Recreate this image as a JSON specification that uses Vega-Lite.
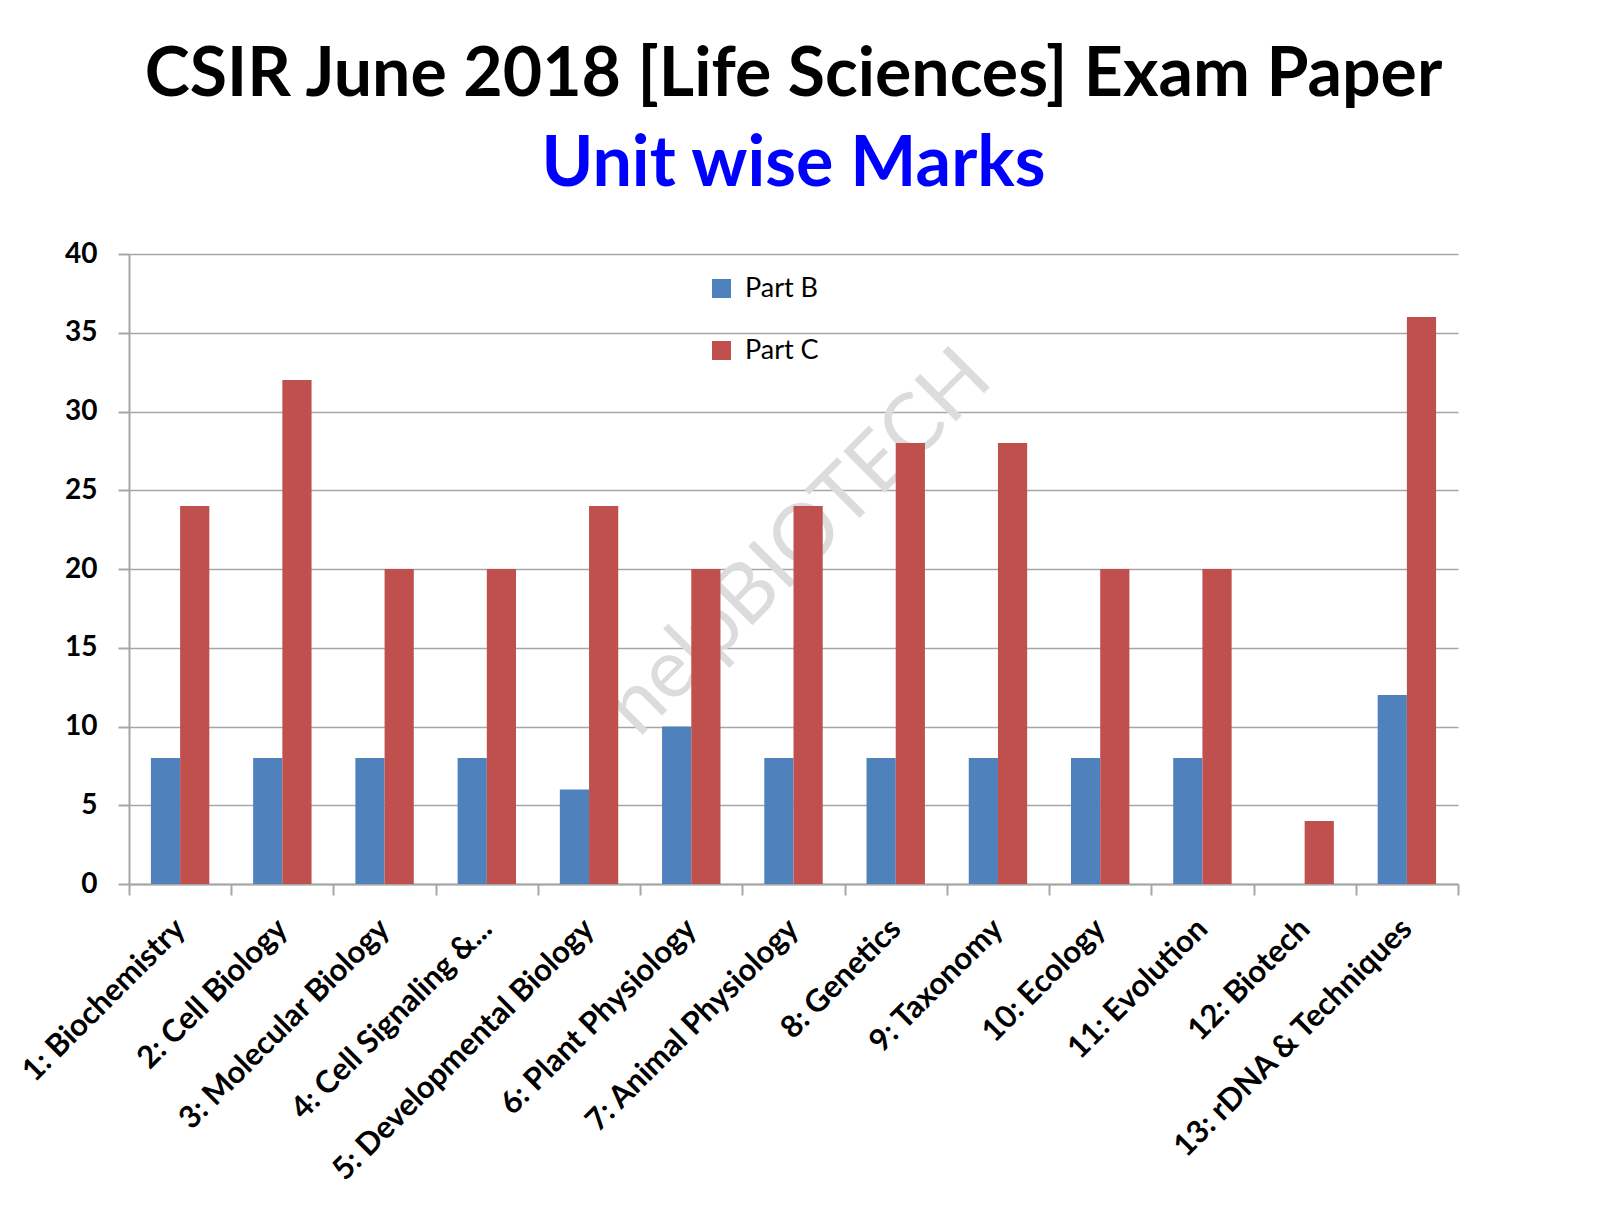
{
  "$schema": "https://vega.github.io/schema/vega-lite/v6.json",
  "width": 1329,
  "height": 630,
  "autosize": {"type": "none"},
  "padding": {"left": 129, "top": 254, "right": 142, "bottom": 324},
  "background": "white",
  "title": {
    "text": "CSIR June 2018 [Life Sciences] Exam Paper",
    "subtitle": "Unit wise Marks",
    "anchor": "middle",
    "font": "Lato",
    "fontSize": 68,
    "fontWeight": "bold",
    "color": "black",
    "subtitleFont": "Lato",
    "subtitleFontSize": 70,
    "subtitleFontWeight": "bold",
    "subtitleColor": "#0000FF",
    "subtitlePadding": 21,
    "offset": 40
  },
  "config": {
    "view": {"stroke": null},
    "axis": {
      "domainColor": "#a6a6a6",
      "domainWidth": 2,
      "tickColor": "#a6a6a6",
      "tickWidth": 2,
      "tickSize": 11,
      "gridColor": "#a6a6a6",
      "gridWidth": 1.5,
      "labelFont": "Lato",
      "labelFontWeight": "bold",
      "labelFontSize": 28,
      "labelColor": "black",
      "title": null
    },
    "axisX": {
      "grid": false,
      "labelAngle": -45,
      "labelAlign": "right",
      "labelBaseline": "middle",
      "tickBand": "extent",
      "labelPadding": 29,
      "labelFontSize": 31,
      "labelLimit": 0
    },
    "axisY": {
      "grid": true,
      "labelPadding": 21
    }
  },
  "layer": [
    {
      "data": {"values": [{"mark": "helpBIOTECH"}]},
      "mark": {"type": "text", "font": "Lato", "fontSize": 82, "fontWeight": "normal", "color": "#dcdcdc", "angle": 315, "align": "center", "baseline": "middle", "dx": 8},
      "encoding": {
        "x": {"datum": "7: Animal Physiology", "type": "nominal", "title": null,
          "scale": {"domain": ["1: Biochemistry", "2: Cell Biology", "3: Molecular Biology", "4: Cell Signaling &...", "5: Developmental Biology", "6: Plant  Physiology", "7: Animal Physiology", "8: Genetics", "9: Taxonomy", "10: Ecology", "11: Evolution", "12: Biotech", "13: rDNA & Techniques"], "paddingInner": 0, "paddingOuter": 0}},
        "y": {"datum": 21.3, "type": "quantitative", "title": null, "axis": {"values": [0, 5, 10, 15, 20, 25, 30, 35, 40]}},
        "text": {"field": "mark"}
      }
    },
    {
      "data": {
        "values": [
          {"unit": "1: Biochemistry", "part": "Part B", "marks": 8},
          {"unit": "1: Biochemistry", "part": "Part C", "marks": 24},
          {"unit": "2: Cell Biology", "part": "Part B", "marks": 8},
          {"unit": "2: Cell Biology", "part": "Part C", "marks": 32},
          {"unit": "3: Molecular Biology", "part": "Part B", "marks": 8},
          {"unit": "3: Molecular Biology", "part": "Part C", "marks": 20},
          {"unit": "4: Cell Signaling &...", "part": "Part B", "marks": 8},
          {"unit": "4: Cell Signaling &...", "part": "Part C", "marks": 20},
          {"unit": "5: Developmental Biology", "part": "Part B", "marks": 6},
          {"unit": "5: Developmental Biology", "part": "Part C", "marks": 24},
          {"unit": "6: Plant  Physiology", "part": "Part B", "marks": 10},
          {"unit": "6: Plant  Physiology", "part": "Part C", "marks": 20},
          {"unit": "7: Animal Physiology", "part": "Part B", "marks": 8},
          {"unit": "7: Animal Physiology", "part": "Part C", "marks": 24},
          {"unit": "8: Genetics", "part": "Part B", "marks": 8},
          {"unit": "8: Genetics", "part": "Part C", "marks": 28},
          {"unit": "9: Taxonomy", "part": "Part B", "marks": 8},
          {"unit": "9: Taxonomy", "part": "Part C", "marks": 28},
          {"unit": "10: Ecology", "part": "Part B", "marks": 8},
          {"unit": "10: Ecology", "part": "Part C", "marks": 20},
          {"unit": "11: Evolution", "part": "Part B", "marks": 8},
          {"unit": "11: Evolution", "part": "Part C", "marks": 20},
          {"unit": "12: Biotech", "part": "Part B", "marks": 0},
          {"unit": "12: Biotech", "part": "Part C", "marks": 4},
          {"unit": "13: rDNA & Techniques", "part": "Part B", "marks": 12},
          {"unit": "13: rDNA & Techniques", "part": "Part C", "marks": 36}
        ]
      },
      "mark": {"type": "bar"},
      "encoding": {
        "x": {"field": "unit", "type": "nominal", "sort": null, "title": null,
          "scale": {"domain": ["1: Biochemistry", "2: Cell Biology", "3: Molecular Biology", "4: Cell Signaling &...", "5: Developmental Biology", "6: Plant  Physiology", "7: Animal Physiology", "8: Genetics", "9: Taxonomy", "10: Ecology", "11: Evolution", "12: Biotech", "13: rDNA & Techniques"], "paddingInner": 0, "paddingOuter": 0}},
        "xOffset": {"field": "part", "type": "nominal", "scale": {"paddingInner": 0, "paddingOuter": 0.75}},
        "y": {"field": "marks", "type": "quantitative", "title": null, "scale": {"domain": [0, 40]}, "axis": {"values": [0, 5, 10, 15, 20, 25, 30, 35, 40]}},
        "color": {
          "field": "part",
          "type": "nominal",
          "scale": {"domain": ["Part B", "Part C"], "range": ["#4F81BD", "#C0504D"]},
          "legend": {
            "orient": "none",
            "legendX": 579,
            "legendY": 21,
            "title": null,
            "labelFont": "Lato",
            "labelFontSize": 27,
            "labelColor": "black",
            "symbolType": "square",
            "symbolSize": 361,
            "symbolStrokeWidth": 0,
            "rowPadding": 34,
            "labelOffset": 10,
            "padding": 0
          }
        }
      }
    }
  ]
}
